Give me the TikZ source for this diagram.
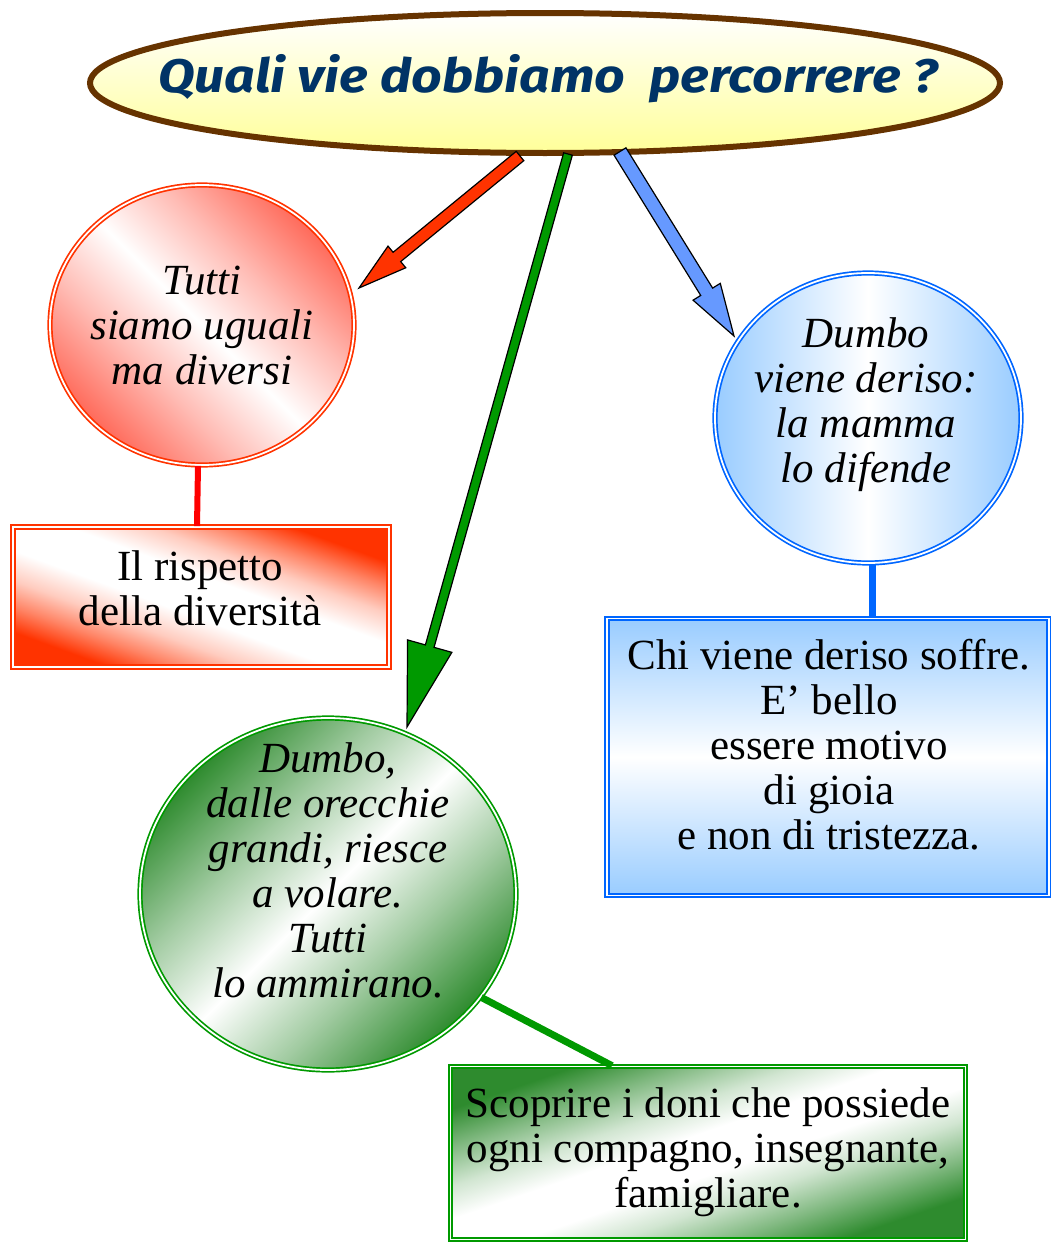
\documentclass[tikz,border=0pt]{standalone}
\usepackage{fontspec}
\setmainfont{Liberation Serif}
\newfontfamily\titlefont[FakeStretch=1.14]{Fira Sans}
\usetikzlibrary{shapes.geometric,calc}
\definecolor{brownb}{HTML}{663300}
\definecolor{titleblue}{HTML}{003366}
\definecolor{titlefill}{HTML}{FFFF99}
\definecolor{redb}{HTML}{FF3300}
\definecolor{redfill}{HTML}{FF6A5A}
\definecolor{redline}{HTML}{FF0000}
\definecolor{blueb}{HTML}{0066FF}
\definecolor{bluefill}{HTML}{99CCFF}
\definecolor{bluearr}{HTML}{6699FF}
\definecolor{greenb}{HTML}{009900}
\definecolor{greenfill}{HTML}{2E8B2E}
\definecolor{greenarr}{HTML}{009900}
\pgfdeclareverticalshading{redcircsh}{100bp}{color(0bp)=(redfill); color(25bp)=(redfill); color(38bp)=(redfill!45!white); color(50bp)=(white); color(62bp)=(redfill!45!white); color(75bp)=(redfill); color(100bp)=(redfill)}
\pgfdeclareverticalshading{redboxsh}{100bp}{color(0bp)=(redb); color(26bp)=(redb); color(32bp)=(redb!60!white); color(38bp)=(redb!25!white); color(45bp)=(white); color(55bp)=(white); color(62bp)=(redb!25!white); color(68bp)=(redb!60!white); color(74bp)=(redb); color(100bp)=(redb)}
\pgfdeclareverticalshading{greensh}{100bp}{color(0bp)=(greenfill); color(25bp)=(greenfill); color(38bp)=(greenfill!45!white); color(50bp)=(white); color(62bp)=(greenfill!45!white); color(75bp)=(greenfill); color(100bp)=(greenfill)}
\pgfdeclareverticalshading{greenboxsh}{100bp}{color(0bp)=(greenfill); color(26bp)=(greenfill); color(33bp)=(greenfill!60!white); color(40bp)=(greenfill!22!white); color(46bp)=(white); color(54bp)=(white); color(60bp)=(greenfill!22!white); color(67bp)=(greenfill!60!white); color(74bp)=(greenfill); color(100bp)=(greenfill)}
\newcommand\blockarr[6]{%
  \coordinate (hb) at ($(#2)!#5!(#1)$);
  \draw[fill=#6, line width=1.2pt, line join=miter]
    ($(#1)!#3!90:(#2)$) -- ($(hb)!#3!90:(#2)$) -- ($(hb)!#4!90:(#2)$) -- (#2)
    -- ($(hb)!#4!-90:(#2)$) -- ($(hb)!#3!-90:(#2)$) -- ($(#1)!#3!-90:(#2)$) -- cycle;}
\tikzset{
  dbl/.style={line width=1.7pt, double=white, double distance=1.8pt},
  bubble/.style={ellipse, inner sep=0pt, dbl},
  box/.style={rectangle, inner sep=0pt, dbl},
  ctext/.style={align=center, inner sep=0pt, font=\fontsize{43}{45}\selectfont\itshape},
  btext/.style={align=center, inner sep=0pt, font=\fontsize{43}{45}\selectfont},
}
\begin{document}
\begin{tikzpicture}[x=1pt,y=-1pt]
\useasboundingbox (0,0) rectangle (1051,1242);
% title
\node[ellipse, minimum width=910pt, minimum height=140pt, draw=brownb, line width=6pt,
  top color=white, bottom color=titlefill] (title) at (545,83) {};
\node[font=\titlefont\bfseries\itshape\fontsize{47}{50}\selectfont, text=titleblue, inner sep=0pt, anchor=base] (tt) at (548,92) {Quali vie dobbiamo\ \ percorrere ?};
% red
\node[bubble, draw=redb, minimum width=304pt, minimum height=280pt,
  shading=redcircsh, shading angle=-45] (rc) at (202,325) {};
\node[ctext] (rct) at (202,325) {Tutti\\siamo uguali\\ma diversi};
\node[box, draw=redb, minimum width=376pt, minimum height=140pt,
  shading=redboxsh, shading angle=-20] (rb) at (201,597) {};
\node[btext] (rbt) at (200,588) {Il rispetto\\della diversità};
\draw[redline, line width=6pt] ([xshift=-4pt]rc.south) -- ([xshift=-4pt]rb.north);
% blue
\node[bubble, draw=blueb, minimum width=306pt, minimum height=290pt,
  left color=bluefill, right color=bluefill, middle color=white] (bc) at (868,418) {};
\node[ctext] (bct) at (866,405) {Dumbo\\viene deriso:\\la mamma\\lo difende};
\node[box, draw=blueb, minimum width=442pt, minimum height=277pt,
  top color=bluefill, bottom color=bluefill, middle color=white] (bb) at (828,757) {};
\node[btext] (bbt) at (829,745) {Chi viene deriso soffre.\\E’ bello\\essere motivo\\di gioia\\e non di tristezza.};
\draw[blueb, line width=7pt] ([xshift=4pt]bc.south) -- ([xshift=4pt]bc.south |- bb.north);
% green
\node[bubble, draw=greenb, minimum width=376pt, minimum height=352pt,
  shading=greensh, shading angle=45] (gc) at (328,894) {};
\node[ctext] (gct) at (328,870) {Dumbo,\\dalle orecchie\\grandi, riesce\\a volare.\\Tutti\\lo ammirano.};
\node[box, draw=greenb, minimum width=515pt, minimum height=173pt,
  shading=greenboxsh, shading angle=19] (gb) at (708,1153) {};
\node[btext] (gbt) at (708,1152) {Scoprire i doni che possiede\\ogni compagno, insegnante,\\famigliare.};
\draw[greenb, line width=7pt] (gc.-34) -- ([xshift=-96pt]gb.north);
% arrows
\coordinate (ra) at (520,156);
\coordinate (rt) at (359,288);
\coordinate (ga) at (568,154);
\coordinate (gt) at (407,727);
\coordinate (ba) at (620,151.5);
\coordinate (bt) at (734,336);
\blockarr{ra}{rt}{6pt}{14pt}{49pt}{redb}
\blockarr{ga}{gt}{4.5pt}{23pt}{84pt}{greenarr}
\blockarr{ba}{bt}{7pt}{16pt}{52pt}{bluearr}
\end{tikzpicture}
\end{document}
